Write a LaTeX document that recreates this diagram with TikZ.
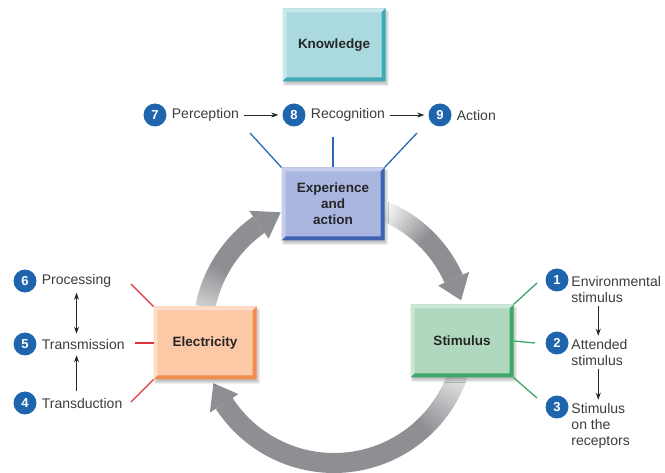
\documentclass[tikz,border=0pt]{standalone}
\usepackage{fontspec}
\setmainfont{Liberation Sans}
\usetikzlibrary{positioning,arrows.meta,shadows.blur}

\definecolor{knowfill}{HTML}{AADADF}
\definecolor{knowlight}{HTML}{C8E9EC}
\definecolor{knowdark}{HTML}{3FAAB5}
\definecolor{expfill}{HTML}{A9B7E0}
\definecolor{explight}{HTML}{C5CEEC}
\definecolor{expdark}{HTML}{3F62B2}
\definecolor{elecfill}{HTML}{FDC8A6}
\definecolor{eleclight}{HTML}{FEDDC8}
\definecolor{elecdark}{HTML}{F28B4E}
\definecolor{stimfill}{HTML}{B0D8BF}
\definecolor{stimlight}{HTML}{CDE7D7}
\definecolor{stimdark}{HTML}{3FA66A}
\definecolor{numblue}{HTML}{1F65AE}
\definecolor{arrowgray}{HTML}{8E8F93}
\definecolor{lbltext}{HTML}{3C3C3C}
\definecolor{titletext}{HTML}{262626}
\definecolor{redline}{HTML}{E0303A}
\definecolor{blueline}{HTML}{2A6AB5}

\tikzset{
  box/.style={minimum width=103pt, minimum height=73pt, inner sep=0pt, outer sep=0pt,
    align=center, text=titletext, font=\fontsize{13.5}{16}\selectfont\bfseries,
    blur shadow={shadow xshift=2pt, shadow yshift=-3pt, shadow opacity=25, shadow blur steps=6}},
  num/.style={circle, fill=numblue, minimum size=23pt, inner sep=0pt, text=white,
    font=\fontsize{13}{15}\selectfont\bfseries},
  lbl/.style={inner sep=0pt, text=lbltext, align=left, font=\fontsize{14}{16}\selectfont},
  flow/.style={-{Stealth[length=7pt,width=5pt]}, line width=0.8pt, draw=titletext},
  link/.style={line width=1.3pt},
}

% bevel edges of a box: name, dark colour, light colour
\newcommand{\boxbevel}[3]{%
  \fill[#3] (#1.north west) -- (#1.north east) -- ([shift={(-4,-4)}]#1.north east)
    -- ([shift={(4,-4)}]#1.north west) -- ([shift={(4,4)}]#1.south west) -- (#1.south west) -- cycle;
  \fill[#2] (#1.north east) -- (#1.south east) -- (#1.south west) -- ([shift={(4,4)}]#1.south west)
    -- ([shift={(-4,4)}]#1.south east) -- ([shift={(-4,-4)}]#1.north east) -- cycle;
}

% cycle arrow: start angle, end of fade, head base, tip, start intensity
\newcommand{\cyclearrow}[5]{%
  \foreach \k in {0,...,19}{
    \pgfmathsetmacro\aa{#1+(#2-#1)*\k/20}
    \pgfmathsetmacro\bb{#1+(#2-#1)*(\k+1.4)/20}
    \pgfmathtruncatemacro\pp{#5+(100-#5)*\k/19}
    \draw[line width=20pt, draw=arrowgray!\pp!white] (\aa:131) arc[start angle=\aa, end angle=\bb, radius=131];
  }
  \draw[line width=20pt, draw=arrowgray] (#2:131) arc[start angle=#2, end angle=#3, radius=131];
  \fill[arrowgray] (#3:148) -- (#4:131) -- (#3:114) -- cycle;
}

\begin{document}
\begin{tikzpicture}[x=1pt,y=1pt]
\useasboundingbox (0,0) rectangle (665,472);

% Cycle arrows
\begin{scope}[shift={(334,140)}]
  \cyclearrow{169}{150}{125}{114}{45}
  \cyclearrow{68}{45}{24}{14}{4}
  \cyclearrow{-19}{-48}{-147}{-157}{25}
\end{scope}

% Boxes
\node[box, fill=knowfill] (know) at (334,427) {Knowledge};
\node[box, fill=expfill] (exp) at (333,268) {Experience\\and\\action};
\node[box, fill=elecfill] (elec) at (205,129) {Electricity};
\node[box, fill=stimfill] (stim) at (462,131) {Stimulus};
\boxbevel{know}{knowdark}{knowlight}
\boxbevel{exp}{expdark}{explight}
\boxbevel{elec}{elecdark}{eleclight}
\boxbevel{stim}{stimdark}{stimlight}

% Top row
\node[num] (n7) at (155,357) {7};
\node[lbl, right=5pt of n7] (l7) {Perception};
\node[num] (n8) at (294,357) {8};
\node[lbl, right=5pt of n8] (l8) {Recognition};
\node[num] (n9) at (440,357) {9};
\node[lbl, right=5pt of n9] (l9) {Action};
\draw[flow, shorten <=5pt, shorten >=4pt] (l7) -- (n8);
\draw[flow, shorten <=5pt, shorten >=4pt] (l8) -- (n9);

\coordinate (b1) at (250,339);
\coordinate (b2) at (333,335);
\coordinate (b3) at (417,339);
\draw[link, blueline] (b1) -- (exp.north west);
\draw[link, blueline] (b2) -- (exp.north);
\draw[link, blueline] (b3) -- (exp.north east);

% Left column
\node[num] (n6) at (25,191) {6};
\node[lbl, right=5pt of n6] (l6) {Processing};
\node[num] (n5) at (25,128) {5};
\node[lbl, right=5pt of n5] (l5) {Transmission};
\node[num] (n4) at (25,69) {4};
\node[lbl, right=5pt of n4] (l4) {Transduction};
\draw[flow, {Stealth[length=7pt,width=5pt]}-{Stealth[length=7pt,width=5pt]}, shorten <=5pt, shorten >=5pt]
  (l6.south) -- (l5.north -| l6.south);
\draw[flow, shorten <=7pt, shorten >=6pt] (l4.north -| l6.south) -- (l5.south -| l6.south);

\coordinate (r1) at (131,188);
\coordinate (r2) at (135,129);
\coordinate (r3) at (131,70);
\draw[link, redline] (r1) -- (elec.north west);
\draw[link, redline] (r2) -- (elec.west);
\draw[link, redline] (r3) -- (elec.south west);

% Right column
\node[num] (n1) at (557,192) {1};
\node[lbl, anchor=north west] (l1) at ([shift={(6,-4)}]n1.north east) {Environmental\\stimulus};
\node[num] (n2) at (557,129) {2};
\node[lbl, anchor=north west] (l2) at ([shift={(6,-4)}]n2.north east) {Attended\\stimulus};
\node[num] (n3) at (557,65) {3};
\node[lbl, anchor=north west] (l3) at ([shift={(6,-4)}]n3.north east) {Stimulus\\on the\\receptors};
\draw[flow, shorten <=4pt, shorten >=3pt] ([xshift=27pt]l1.south west) -- ([xshift=27pt]l2.north west);
\draw[flow, shorten <=4pt, shorten >=3pt] ([xshift=27pt]l2.south west) -- ([xshift=27pt]l3.north west);

\coordinate (g1) at (537,189);
\coordinate (g2) at (535,129);
\coordinate (g3) at (537,74);
\draw[link, stimdark] (g1) -- (stim.north east);
\draw[link, stimdark] (g2) -- (stim.east);
\draw[link, stimdark] (g3) -- (stim.south east);
\end{tikzpicture}
\end{document}
